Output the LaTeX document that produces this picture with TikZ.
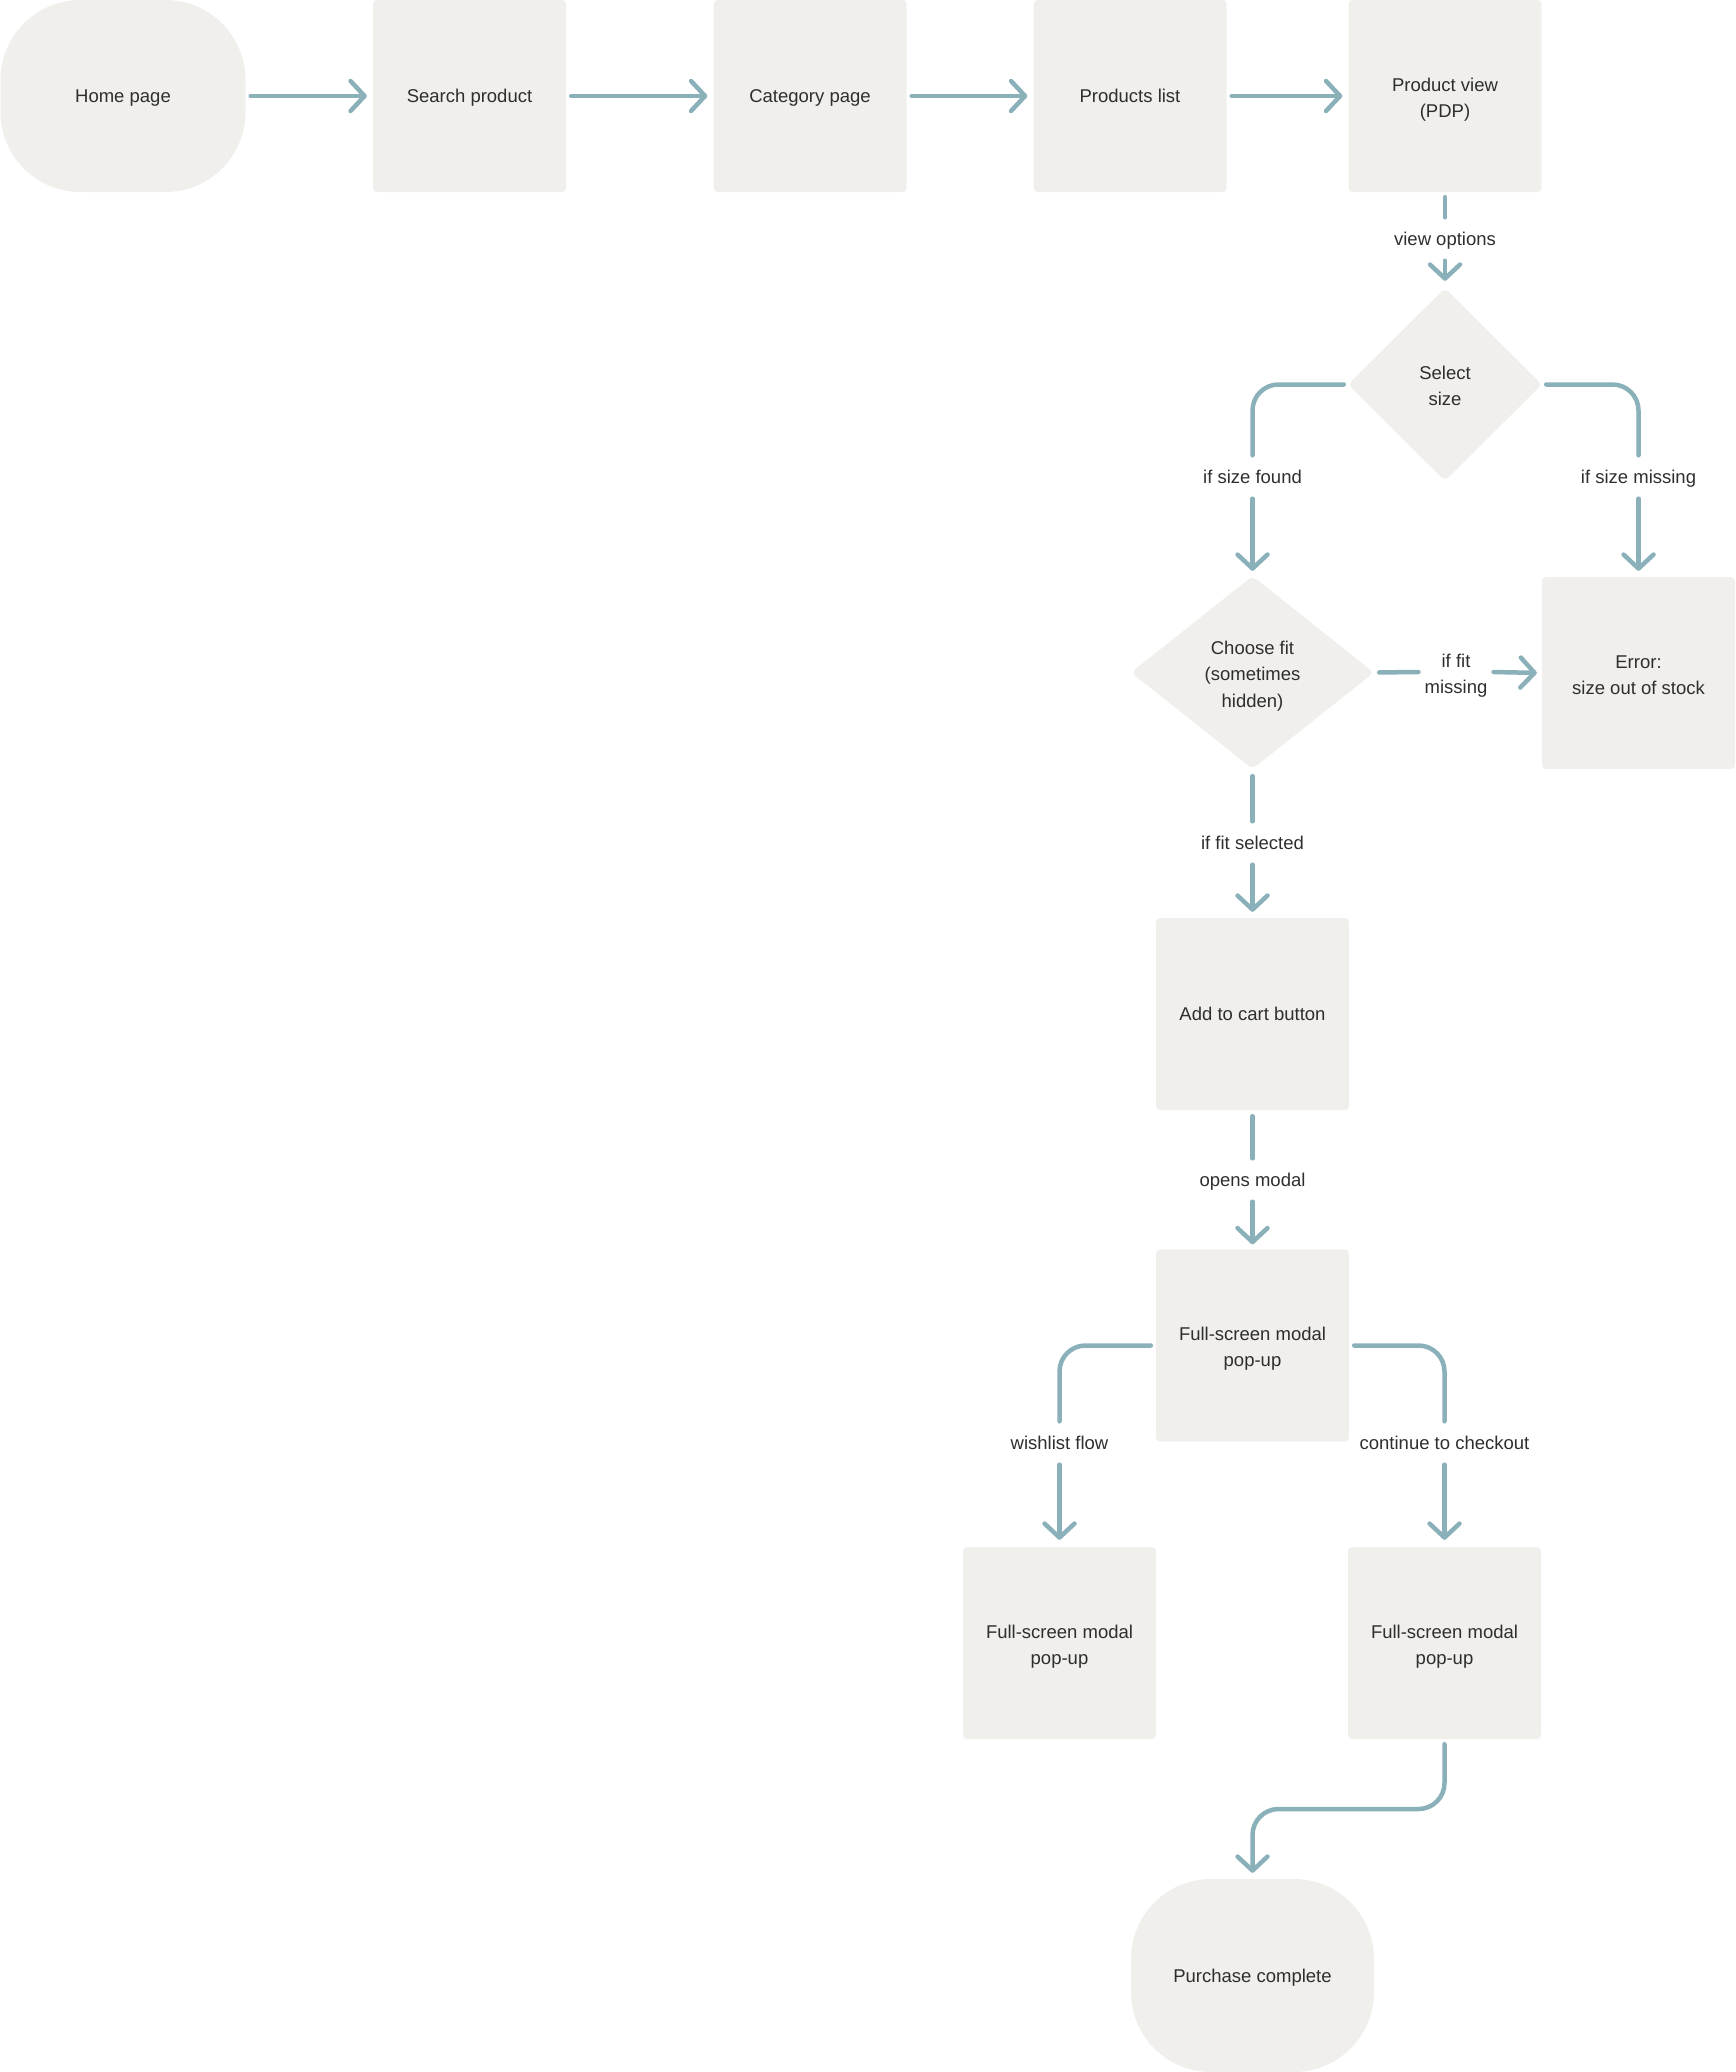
\documentclass[tikz,border=0pt]{standalone}
\usepackage{fontspec}
\setmainfont{Liberation Sans}
\usetikzlibrary{arrows.meta,shapes.geometric}
\definecolor{boxfill}{HTML}{F0EFEC}
\definecolor{conn}{HTML}{8AB1B9}
\definecolor{txt}{HTML}{2E2E2E}
\newcommand{\firstl}{\rule{0pt}{21pt}}
\begin{document}
\begin{tikzpicture}[x=1pt,y=-1pt,
  every node/.style={font=\fontsize{18.5}{26.4}\selectfont, text=txt, align=center,
    execute at begin node={\rule[-4.5pt]{0pt}{22pt}},
    execute at end node={\rule[-4.5pt]{0pt}{22pt}}},
  box/.style={rectangle, fill=boxfill, rounded corners=4pt, minimum width=193pt, minimum height=192pt, inner sep=0pt},
  term/.style={rectangle, fill=boxfill, rounded corners=80pt, minimum width=245pt, minimum height=192pt, inner sep=0pt},
  dec/.style={diamond, fill=boxfill, rounded corners=5pt, inner sep=0pt},
  lbl/.style={inner xsep=6pt, inner ysep=0pt, minimum height=43pt},
  line/.style={draw=conn, line width=4.5pt, line cap=round, line join=round, rounded corners=26pt},
  arr/.style={line, -{Straight Barb[length=14pt,width=30pt,round]}}
]
\useasboundingbox (0,0) rectangle (1736,2072);
% nodes
\node[term] (home) at (123,96) {Home page};
\node[box] (search) at (469.5,96) {Search product};
\node[box] (cat) at (810,96) {Category page};
\node[box] (plist) at (1130,96) {Products list};
\node[box] (pv) at (1445,96) {\firstl Product view\\(PDP)};
\node[dec, minimum width=194pt, minimum height=193pt] (ss) at (1445,384.5) {\firstl Select\\size};
\node[dec, minimum width=243pt, minimum height=193pt, aspect=1.26] (cf) at (1252.5,672.5) {\firstl Choose fit\\(sometimes\\hidden)};
\node[box] (err) at (1638.5,673) {\firstl Error:\\size out of stock};
\node[box] (atc) at (1252.5,1014) {Add to cart button};
\node[box] (fsm1) at (1252.5,1345.5) {\firstl Full-screen modal\\pop-up};
\node[box] (fsm2) at (1059.5,1643) {\firstl Full-screen modal\\pop-up};
\node[box] (fsm3) at (1444.5,1643) {\firstl Full-screen modal\\pop-up};
\node[term, minimum width=243pt, minimum height=193pt] (pc) at (1252.5,1975.5) {Purchase complete};
% labels
\node[lbl] (lvo) at (1445,239) {view options};
\node[lbl] (lsf) at (1252.5,477) {if size found};
\node[lbl] (lsm) at (1638.5,477) {if size missing};
\node[lbl] (lfm) at (1456,672) {\firstl if fit\\missing};
\node[lbl] (lfs) at (1252.5,843) {if fit selected};
\node[lbl] (lom) at (1252.5,1180) {opens modal};
\node[lbl] (lwf) at (1059.5,1443) {wishlist flow};
\node[lbl] (lcc) at (1444.5,1443) {continue to checkout};
\coordinate (bend) at (1252.5,1809);
% connectors
\draw[arr, shorten <=5pt, shorten >=6pt] (home.east) -- (search.west);
\draw[arr, shorten <=5pt, shorten >=6pt] (search.east) -- (cat.west);
\draw[arr, shorten <=5pt, shorten >=6pt] (cat.east) -- (plist.west);
\draw[arr, shorten <=5pt, shorten >=6pt] (plist.east) -- (pv.west);
\draw[line, shorten <=5pt] (pv.south) -- (lvo.north);
\draw[arr, shorten >=7pt] (lvo.south) -- (ss.north);
\draw[line, shorten <=4pt] (ss.west) -| (lsf.north);
\draw[arr, shorten >=5pt] (lsf.south) -- (cf.north);
\draw[line, shorten <=4pt] (ss.east) -| (lsm.north);
\draw[arr, shorten >=6pt] (lsm.south) -- (err.north);
\draw[line, shorten <=5pt] (cf.east) -- (lfm.west);
\draw[arr, shorten >=5pt] (lfm.east) -- (err.west);
\draw[line, shorten <=7pt] (cf.south) -- (lfs.north);
\draw[arr, shorten >=6pt] (lfs.south) -- (atc.north);
\draw[line, shorten <=6pt] (atc.south) -- (lom.north);
\draw[arr, shorten >=5pt] (lom.south) -- (fsm1.north);
\draw[line, shorten <=5pt] (fsm1.west) -| (lwf.north);
\draw[arr, shorten >=7pt] (lwf.south) -- (fsm2.north);
\draw[line, shorten <=5pt] (fsm1.east) -| (lcc.north);
\draw[arr, shorten >=7pt] (lcc.south) -- (fsm3.north);
\draw[arr, shorten <=5pt, shorten >=6pt] (fsm3.south) |- (bend) -- (pc.north);
\end{tikzpicture}
\end{document}
